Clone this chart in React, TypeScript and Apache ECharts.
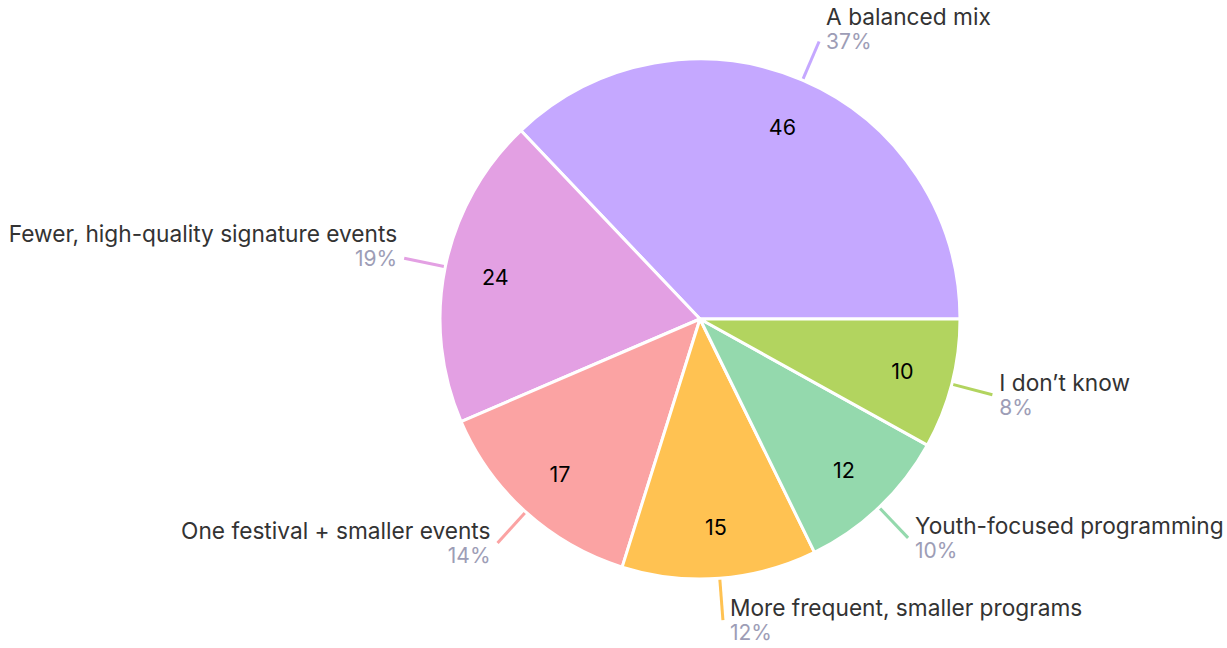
import React, { useEffect, useRef } from "react";
import * as echarts from "echarts";

const categories = [
  "A balanced mix",
  "Fewer, high-quality signature events",
  "One festival + smaller events",
  "More frequent, smaller programs",
  "Youth-focused programming",
  "I don\u2019t know",
];
const values = [46, 24, 17, 15, 12, 10];
const colors = ["#c5a8ff", "#e3a0e3", "#fba3a3", "#ffc252", "#94d9ad", "#b2d45f"];
// labels in the upper half sit with their percentage line at the leader end
const raisedLabel = [true, true, false, false, false, false];

const FONT = "Inter";

export default function App() {
  const ref = useRef<HTMLDivElement>(null);
  useEffect(() => {
    if (!ref.current) return;
    const chart = echarts.init(ref.current, undefined, { renderer: "svg" });
    const outerData = categories.map((name, i) => ({
      name,
      value: values[i],
      itemStyle: { color: colors[i] },
      labelLine: { lineStyle: { color: colors[i] } },
      label: raisedLabel[i] ? { padding: [0, 0, 25, 0] } : {},
    }));
    const innerData = categories.map((name, i) => ({ name, value: values[i] }));
    chart.setOption({
      animation: false,
      backgroundColor: "#ffffff",
      series: [
        {
          type: "pie",
          center: [700, 319],
          radius: 260,
          startAngle: 0,
          clockwise: false,
          avoidLabelOverlap: false,
          percentPrecision: 0,
          itemStyle: { borderColor: "#ffffff", borderWidth: 3 },
          label: {
            show: true,
            position: "outside",
            distanceToLabelLine: 7,
            formatter: "{n|{b}}\n{p|{d}%}",
            rich: {
              n: { fontFamily: FONT, fontSize: 22.7, color: "#333333", lineHeight: 25 },
              p: { fontFamily: FONT, fontSize: 21, color: "#9d9db6", lineHeight: 25 },
            },
          },
          labelLine: { show: true, length: 42, length2: 0, smooth: false, lineStyle: { width: 3 } },
          emphasis: { disabled: true },
          data: outerData,
        },
        {
          type: "pie",
          center: [700, 319],
          radius: [152, 260],
          startAngle: 0,
          clockwise: false,
          silent: true,
          avoidLabelOverlap: false,
          itemStyle: { color: "rgba(0,0,0,0)", borderWidth: 0 },
          label: {
            show: true,
            position: "inside",
            formatter: "{c}",
            fontFamily: FONT,
            fontSize: 21.5,
            color: "#000000",
          },
          labelLine: { show: false },
          emphasis: { disabled: true },
          data: innerData,
        },
      ],
    });
    return () => chart.dispose();
  }, []);
  return (
    <div
      ref={ref}
      style={{ position: "absolute", left: 0, top: 0, width: 1227, height: 648 }}
    />
  );
}
